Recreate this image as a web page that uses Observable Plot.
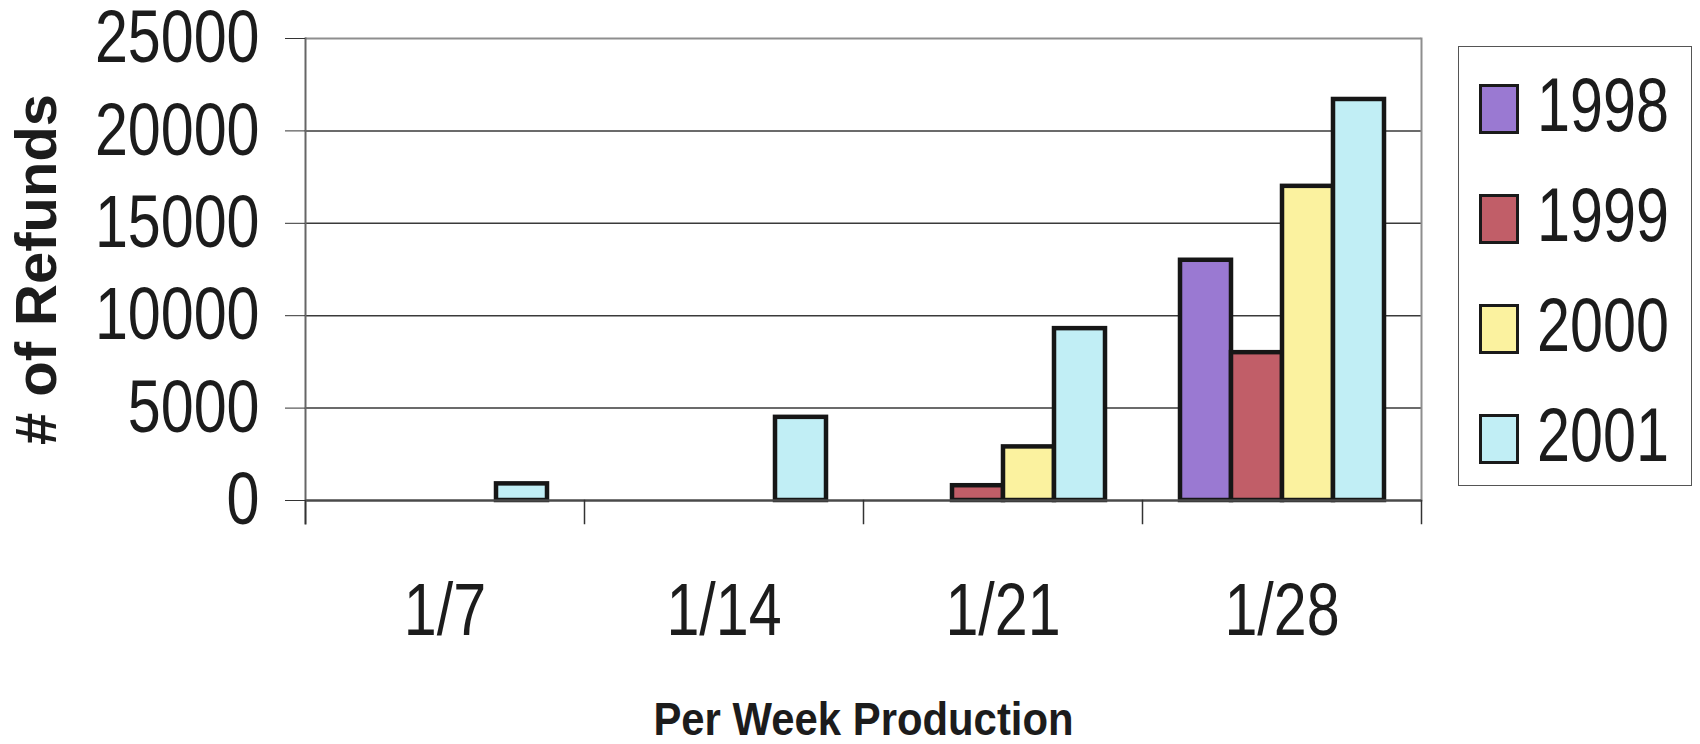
<!DOCTYPE html>
<html><head><meta charset="utf-8">
<script src="https://cdn.jsdelivr.net/npm/d3@7"></script>
<script src="https://cdn.jsdelivr.net/npm/@observablehq/plot@0.6"></script>
<style>
html,body{margin:0;padding:0;background:#fff;}
#wrap{position:relative;width:1700px;height:744px;overflow:hidden;}
#legend{position:absolute;left:1458px;top:46px;width:234px;height:440px;border:1.5px solid #555;box-sizing:border-box;background:#fff;}
.item{position:absolute;left:19.5px;width:200px;height:50px;}
.sw{position:absolute;left:0;top:0;width:40px;height:50px;border:3.5px solid #1a1a1a;box-sizing:border-box;}
.lab{position:absolute;left:58px;top:-4px;line-height:50px;font-size:76px;font-family:"Liberation Sans",Arial,sans-serif;color:#1c1c1c;white-space:nowrap;display:inline-block;transform:scaleX(0.78);transform-origin:0 0;}
</style></head><body><div id="wrap"></div>
<script>
// ---- data ----
const weeks = ["1/7", "1/14", "1/21", "1/28"];
const years = ["1998", "1999", "2000", "2001"];
const refunds1998 = [0, 0, 0, 13000];
const refunds1999 = [0, 0, 800, 8000];
const refunds2000 = [0, 0, 2900, 17000];
const refunds2001 = [900, 4500, 9300, 21700];
const yTicks = [0, 5000, 10000, 15000, 20000, 25000];
const colors = ["#9a79d2", "#c15e68", "#fbf29f", "#c1eef5"];

const series = [refunds1998, refunds1999, refunds2000, refunds2001];
const rows = years.flatMap((yr, j) => weeks.map((wk, i) => ({week: wk, year: yr, value: series[j][i]})))
  .filter(d => d.value > 0);

// ---- layout ----
const W = 1700, H = 744, mL = 304, mR = 278, mT = 38, mB = 244;
const plotH = H - mT - mB;
const sans = "'Liberation Sans',Arial,sans-serif";

const chart = Plot.plot({
  width: W, height: H,
  marginLeft: mL, marginRight: mR, marginTop: mT, marginBottom: mB,
  fx: {domain: weeks, padding: 0},
  x: {domain: years, paddingInner: 0, paddingOuter: 0.7, axis: null},
  y: {domain: [0, 25000]},
  color: {domain: years, range: colors},
  marks: [
    Plot.ruleY(yTicks.slice(1, -1), {stroke: "#3a3a3a", strokeWidth: 1.5}),
    Plot.ruleY([yTicks[yTicks.length - 1]], {stroke: "#8e8e8e", strokeWidth: 2}),
    Plot.frame({anchor: "right", facetAnchor: "right", stroke: "#8e8e8e", strokeWidth: 2}),
    Plot.barY(rows, {fx: "week", x: "year", y: "value", fill: "year", stroke: "#161616", strokeWidth: 4.5}),
    Plot.ruleY([0], {stroke: "#4a4a4a", strokeWidth: 2.5}),
    Plot.frame({anchor: "left", facetAnchor: "left", stroke: "#666", strokeWidth: 2, insetBottom: -23}),
    Plot.frame({anchor: "left", stroke: "#333", strokeWidth: 1.5, insetTop: plotH, insetBottom: -23}),
    Plot.frame({anchor: "right", facetAnchor: "right", stroke: "#333", strokeWidth: 1.5, insetTop: plotH, insetBottom: -23}),
    Plot.axisY({ticks: yTicks, tickSize: 20, tickPadding: 26, tickFormat: d => String(d), fontSize: 74, fontFamily: sans, stroke: "#333", fill: "#1c1c1c", label: null}),
    Plot.axisY({ticks: [], label: "# of Refunds", labelAnchor: "center", labelArrow: "none", labelOffset: 291, fontSize: 58, fontWeight: "bold", fontFamily: sans, fill: "#1c1c1c"}),
    Plot.axisFx({anchor: "bottom", tickSize: 0, tickPadding: 82, fontSize: 74, fontFamily: sans, fill: "#1c1c1c", label: null}),
    Plot.axisFx({anchor: "bottom", ticks: [], label: "Per Week Production", labelAnchor: "center", labelArrow: "none", labelOffset: 234, fontSize: 46, fontWeight: "bold", fontFamily: sans, fill: "#1c1c1c"})
  ]
});

// condensed look of the original lettering: horizontal squeeze about each text's anchor
function condense(sel, s) {
  sel.each(function () {
    const t = this.getAttribute("transform") || "";
    const x = +this.getAttribute("x") || 0, y = +this.getAttribute("y") || 0;
    this.setAttribute("transform", `${t} translate(${x},${y}) scale(${s},1) translate(${-x},${-y})`);
  });
}
condense(d3.select(chart).selectAll('g[aria-label$="tick label"] text'), 0.8);
condense(d3.select(chart).selectAll('g[aria-label="fx-axis label"] text'), 0.91);

const wrap = document.getElementById("wrap");
wrap.appendChild(chart);

// ---- legend ----
const legend = d3.select(wrap).append("div").attr("id", "legend");
years.forEach((yr, i) => {
  const item = legend.append("div").attr("class", "item").style("top", (36.5 + 110 * i) + "px");
  item.append("div").attr("class", "sw").style("background", colors[i]);
  item.append("span").attr("class", "lab").text(yr);
});
</script></body></html>
